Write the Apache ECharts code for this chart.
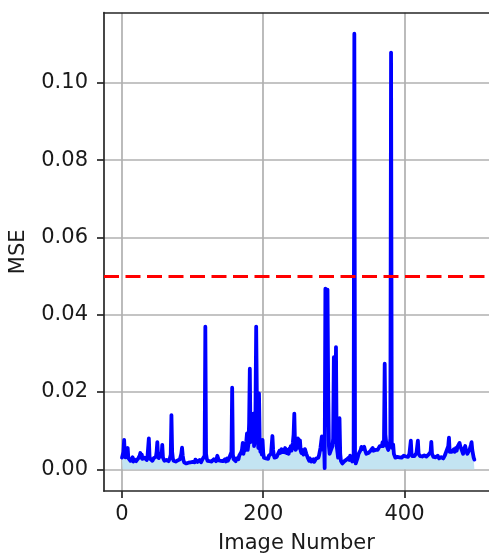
<!DOCTYPE html>
<html>
<head>
<meta charset="utf-8">
<script src="https://cdn.jsdelivr.net/npm/echarts@6/dist/echarts.min.js"></script>
<style>html,body{margin:0;padding:0;background:#fff}#c{width:489px;height:559px}</style>
</head>
<body>
<div id="c"></div>
<script>
// MSE per image number (index = image number 0..499)
const mseValues = [
0.0030,0.0026,0.0045,0.0076,0.0040,0.0031,0.0028,0.0034,0.0055,0.0029,
0.0025,0.0030,0.0022,0.0027,0.0024,0.0031,0.0020,0.0026,0.0023,0.0029,
0.0021,0.0025,0.0019,0.0028,0.0024,0.0035,0.0042,0.0030,0.0038,0.0027,
0.0032,0.0026,0.0030,0.0035,0.0028,0.0024,0.0031,0.0029,0.0080,0.0033,
0.0027,0.0025,0.0030,0.0022,0.0026,0.0029,0.0024,0.0028,0.0032,0.0045,
0.0070,0.0036,0.0029,0.0031,0.0027,0.0040,0.0034,0.0063,0.0030,0.0026,
0.0022,0.0025,0.0020,0.0024,0.0019,0.0023,0.0021,0.0026,0.0030,0.0038,
0.0140,0.0045,0.0028,0.0022,0.0019,0.0024,0.0020,0.0017,0.0021,0.0023,
0.0019,0.0022,0.0026,0.0031,0.0040,0.0056,0.0035,0.0024,0.0018,0.0016,
0.0020,0.0015,0.0018,0.0014,0.0017,0.0019,0.0015,0.0018,0.0021,0.0016,
0.0019,0.0017,0.0022,0.0018,0.0025,0.0020,0.0023,0.0019,0.0017,0.0021,
0.0024,0.0020,0.0018,0.0022,0.0026,0.0023,0.0030,0.0035,0.0369,0.0040,
0.0028,0.0022,0.0019,0.0024,0.0021,0.0018,0.0023,0.0020,0.0025,0.0022,
0.0026,0.0030,0.0024,0.0021,0.0027,0.0035,0.0029,0.0023,0.0020,0.0024,
0.0022,0.0019,0.0025,0.0021,0.0018,0.0023,0.0026,0.0020,0.0024,0.0028,
0.0022,0.0025,0.0030,0.0027,0.0033,0.0045,0.0211,0.0038,0.0026,0.0022,
0.0025,0.0021,0.0028,0.0024,0.0030,0.0026,0.0035,0.0032,0.0040,0.0045,
0.0052,0.0068,0.0040,0.0055,0.0048,0.0060,0.0072,0.0093,0.0050,0.0065,
0.0120,0.0260,0.0070,0.0098,0.0085,0.0110,0.0144,0.0060,0.0075,0.0150,
0.0369,0.0180,0.0090,0.0055,0.0196,0.0070,0.0045,0.0060,0.0038,0.0076,
0.0042,0.0030,0.0026,0.0033,0.0028,0.0024,0.0031,0.0027,0.0035,0.0030,
0.0033,0.0040,0.0045,0.0086,0.0050,0.0036,0.0030,0.0034,0.0028,0.0032,
0.0036,0.0040,0.0035,0.0048,0.0042,0.0038,0.0052,0.0045,0.0040,0.0050,
0.0044,0.0055,0.0048,0.0042,0.0050,0.0046,0.0040,0.0053,0.0047,0.0060,
0.0048,0.0055,0.0070,0.0090,0.0144,0.0065,0.0050,0.0045,0.0060,0.0080,
0.0078,0.0055,0.0075,0.0048,0.0042,0.0050,0.0044,0.0038,0.0045,0.0052,
0.0048,0.0040,0.0035,0.0030,0.0026,0.0022,0.0028,0.0024,0.0020,0.0025,
0.0021,0.0026,0.0019,0.0024,0.0022,0.0028,0.0023,0.0027,0.0030,0.0036,
0.0040,0.0055,0.0070,0.0085,0.0060,0.0050,0.0080,0.0003,0.0467,0.0150,
0.0120,0.0465,0.0200,0.0060,0.0040,0.0035,0.0050,0.0045,0.0060,0.0080,
0.0290,0.0100,0.0070,0.0316,0.0060,0.0045,0.0030,0.0025,0.0132,0.0040,
0.0022,0.0018,0.0015,0.0020,0.0017,0.0021,0.0019,0.0023,0.0025,0.0020,
0.0028,0.0030,0.0024,0.0035,0.0030,0.0026,0.0020,0.0015,0.0030,0.1127,
0.0030,0.0015,0.0020,0.0026,0.0032,0.0040,0.0036,0.0045,0.0050,0.0058,
0.0052,0.0056,0.0048,0.0058,0.0050,0.0045,0.0040,0.0044,0.0038,0.0042,
0.0040,0.0044,0.0048,0.0045,0.0050,0.0055,0.0048,0.0052,0.0046,0.0050,
0.0055,0.0048,0.0050,0.0045,0.0052,0.0060,0.0055,0.0065,0.0060,0.0070,
0.0060,0.0075,0.0273,0.0090,0.0070,0.0060,0.0065,0.0050,0.0055,0.0060,
0.0080,0.1078,0.0070,0.0055,0.0064,0.0040,0.0035,0.0030,0.0033,0.0028,
0.0032,0.0030,0.0035,0.0031,0.0036,0.0033,0.0030,0.0034,0.0031,0.0035,
0.0032,0.0036,0.0033,0.0038,0.0035,0.0032,0.0036,0.0040,0.0045,0.0074,
0.0040,0.0034,0.0032,0.0036,0.0034,0.0038,0.0035,0.0042,0.0045,0.0074,
0.0040,0.0036,0.0034,0.0032,0.0036,0.0033,0.0037,0.0034,0.0036,0.0032,
0.0035,0.0033,0.0036,0.0034,0.0038,0.0035,0.0040,0.0045,0.0071,0.0040,
0.0035,0.0032,0.0030,0.0033,0.0031,0.0034,0.0032,0.0035,0.0030,0.0028,
0.0032,0.0029,0.0031,0.0027,0.0030,0.0028,0.0032,0.0035,0.0040,0.0045,
0.0042,0.0050,0.0060,0.0082,0.0045,0.0050,0.0040,0.0045,0.0050,0.0048,
0.0052,0.0045,0.0050,0.0055,0.0048,0.0058,0.0055,0.0062,0.0068,0.0060,
0.0055,0.0050,0.0045,0.0040,0.0050,0.0055,0.0060,0.0050,0.0045,0.0040,
0.0038,0.0045,0.0050,0.0055,0.0062,0.0070,0.0050,0.0040,0.0030,0.0025
];
const threshold = [0.05];
const xTicks = [0, 200, 400];
const yTicks = [0.00, 0.02, 0.04, 0.06, 0.08, 0.10];

const lineData = mseValues.map((v, i) => [i, v]);
const FONT = 'DejaVu Sans';
const X_MIN = -25.5, X_MAX = 519.7;
const spine = {show: true, onZero: false, lineStyle: {color: '#262626', width: 1.7}};
const chart = echarts.init(document.getElementById('c'), null, {renderer: 'canvas'});
chart.setOption({
  animation: false,
  backgroundColor: '#fff',
  grid: {left: 104, right: 0, top: 12.7, bottom: 64, show: false},
  xAxis: [{
    type: 'value', min: X_MIN, max: X_MAX, position: 'bottom',
    name: 'Image Number', nameLocation: 'middle', nameGap: 42,
    nameTextStyle: {fontFamily: FONT, fontSize: 21, color: '#1a1a1a'},
    axisLine: spine,
    axisTick: {show: true, customValues: xTicks, length: 7, lineStyle: {color: '#262626', width: 1.7}},
    axisLabel: {customValues: xTicks, margin: 13, fontFamily: FONT, fontSize: 21, color: '#1a1a1a'},
    splitLine: {show: true, lineStyle: {color: '#b0b0b0', width: 1.7}}
  }, {
    type: 'value', min: X_MIN, max: X_MAX, position: 'top',
    axisLine: spine, axisTick: {show: false}, axisLabel: {show: false}, splitLine: {show: false}
  }],
  yAxis: {
    type: 'value', min: -0.005625, max: 0.118125, position: 'left',
    name: 'MSE', nameLocation: 'middle', nameGap: 75, nameRotate: 90,
    nameTextStyle: {fontFamily: FONT, fontSize: 21, color: '#1a1a1a'},
    axisLine: spine,
    axisTick: {show: true, customValues: yTicks, length: 7, lineStyle: {color: '#262626', width: 1.7}},
    axisLabel: {customValues: yTicks, margin: 16, fontFamily: FONT, fontSize: 21, color: '#1a1a1a',
      formatter: v => v.toFixed(2)},
    splitLine: {show: true, lineStyle: {color: '#b0b0b0', width: 1.7}}
  },
  series: [{
    type: 'line',
    xAxisIndex: 0,
    data: lineData,
    showSymbol: false,
    symbol: 'none',
    lineStyle: {color: '#0000ff', width: 3.8, join: 'round', cap: 'round'},
    itemStyle: {color: '#0000ff'},
    areaStyle: {color: '#c3e4f2', opacity: 1, origin: 'auto'},
    z: 3,
    markLine: {
      silent: true,
      symbol: ['none', 'none'],
      label: {show: false},
      lineStyle: {color: '#ff0000', width: 3, type: [15, 6.5], opacity: 1},
      data: threshold.map(t => ({yAxis: t})),
      z: 5
    }
  }]
});
</script>
</body>
</html>
